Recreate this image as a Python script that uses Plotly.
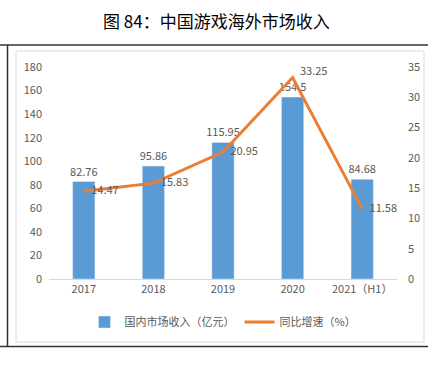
import plotly.graph_objects as go

categories = ["2017", "2018", "2019", "2020", "2021（H1）"]
revenue = [82.76, 95.86, 115.95, 154.5, 84.68]
growth = [14.47, 15.83, 20.95, 33.25, 11.58]
left_ticks = [0, 20, 40, 60, 80, 100, 120, 140, 160, 180]
right_ticks = [0, 5, 10, 15, 20, 25, 30, 35]

W, H = 428, 367
L, R, T, B = 49, 397, 67, 279

def px(x):
    return (x - L) / (R - L)

def py(y):
    return (B - y) / (B - T)

gray = "#595959"
font = "Noto Sans CJK SC, Microsoft YaHei, sans-serif"

fig = go.Figure()
fig.add_trace(go.Bar(
    x=categories, y=revenue, name="国内市场收入（亿元）",
    marker_color="#5B9BD5", width=0.32,
    text=[f"{v:g}" for v in revenue], textposition="outside",
    textfont=dict(color=gray, size=11), cliponaxis=False, constraintext="none",
))
fig.add_trace(go.Scatter(
    x=categories, y=growth, name="同比增速（%）", yaxis="y2",
    mode="lines", line=dict(color="#ED7D31", width=3),
))
fig.add_trace(go.Scatter(
    x=categories, y=growth, yaxis="y2", mode="text", showlegend=False,
    text=["   " + f"{v:g}" for v in growth],
    textposition=["middle right", "middle right", "middle right", "top right", "middle right"],
    textfont=dict(color=gray, size=11), cliponaxis=False,
))

fig.update_layout(
    width=W, height=H,
    margin=dict(l=L, r=W - R, t=T, b=H - B, autoexpand=False),
    paper_bgcolor="white", plot_bgcolor="white",
    font=dict(family=font, color=gray, size=11),
    showlegend=True,
    legend=dict(orientation="h", x=0.5, xanchor="center", y=py(322), yanchor="middle",
                font=dict(size=11, color=gray), itemwidth=30, tracegroupgap=0),
    xaxis=dict(showline=True, linecolor="#D9D9D9", linewidth=1, ticks="",
               tickfont=dict(size=11, color=gray), showgrid=False, fixedrange=True),
    yaxis=dict(range=[0, 180], tickvals=left_ticks, showgrid=False, zeroline=False,
               tickfont=dict(size=11, color=gray), ticklabelstandoff=6),
    yaxis2=dict(range=[0, 35], tickvals=right_ticks, overlaying="y", side="right",
                showgrid=False, zeroline=False, tickfont=dict(size=11, color=gray),
                ticklabelstandoff=10),
)

fig.add_annotation(text="图 84：中国游戏海外市场收入", xref="paper", yref="paper",
                   x=px(216), y=py(20), xanchor="center", yanchor="middle",
                   showarrow=False, font=dict(size=17, color="#000000", family=font))

shapes = [
    dict(x0=px(0), x1=px(428), y0=py(45), y1=py(45), color="#333333", w=1.5),
    dict(x0=px(0), x1=px(428), y0=py(346.5), y1=py(346.5), color="#333333", w=1.5),
    dict(x0=px(7.5), x1=px(7.5), y0=py(45), y1=py(346.5), color="#333333", w=1.5),
]
for s in shapes:
    fig.add_shape(type="line", xref="paper", yref="paper", x0=s["x0"], x1=s["x1"],
                  y0=s["y0"], y1=s["y1"], line=dict(color=s["color"], width=s["w"]))
fig.add_shape(type="rect", xref="paper", yref="paper", x0=px(16), x1=px(424),
              y0=py(342), y1=py(51), line=dict(color="#D9D9D9", width=1), layer="below")

fig.write_html("out.html", config={"displayModeBar": False},
               post_script="document.body.style.margin='0';")
